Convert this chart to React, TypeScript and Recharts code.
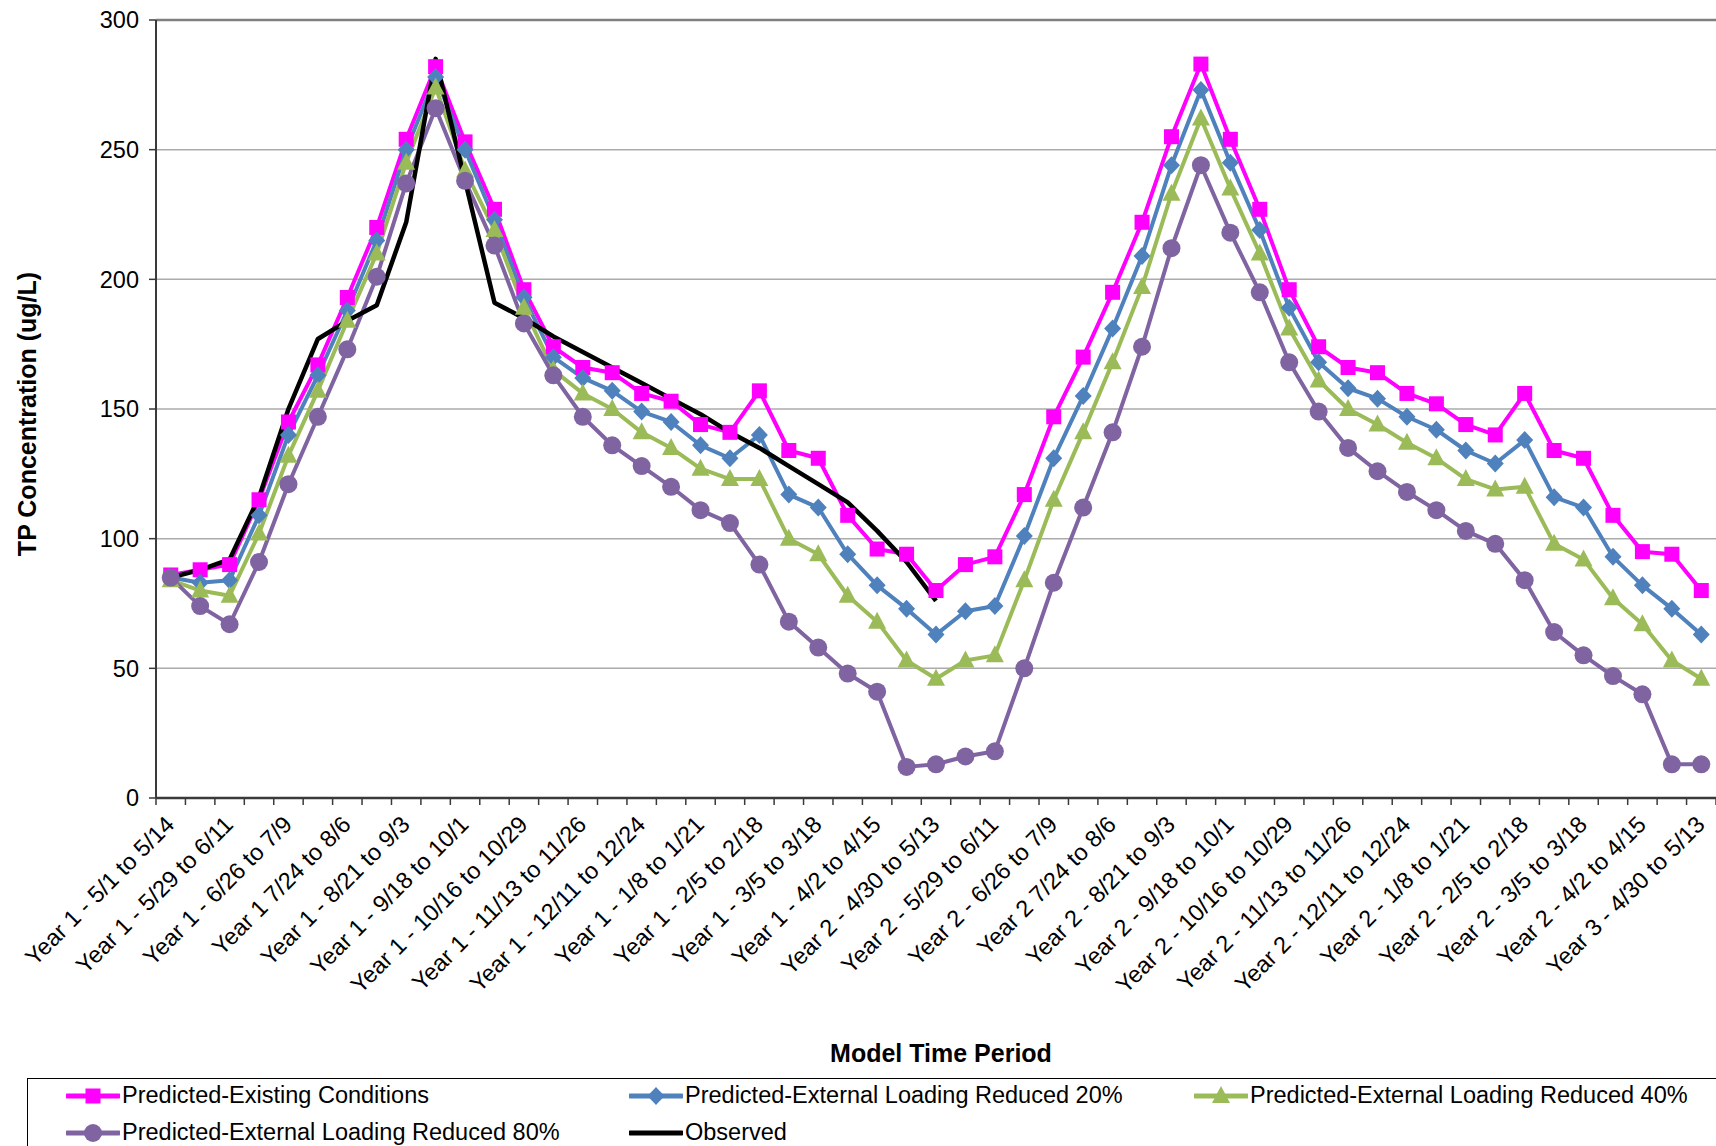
import { CartesianGrid, Legend, Line, LineChart, ReferenceLine, XAxis, YAxis } from "recharts";

const FONT = '"Liberation Sans", Arial, Helvetica, sans-serif';
const AXIS = "#3a3a3a";
const GRID = "#ababab";

// two-week model periods (only every other one is labelled on the axis)
const PERIODS = [
  "Year 1 - 5/1 to 5/14", "Year 1 - 5/15 to 5/28", "Year 1 - 5/29 to 6/11", "Year 1 - 6/12 to 6/25",
  "Year 1 - 6/26 to 7/9", "Year 1 - 7/10 to 7/23", "Year 1 7/24 to 8/6", "Year 1 - 8/7 to 8/20",
  "Year 1 - 8/21 to 9/3", "Year 1 - 9/4 to 9/17", "Year 1 - 9/18 to 10/1", "Year 1 - 10/2 to 10/15",
  "Year 1 - 10/16 to 10/29", "Year 1 - 10/30 to 11/12", "Year 1 - 11/13 to 11/26", "Year 1 - 11/27 to 12/10",
  "Year 1 - 12/11 to 12/24", "Year 1 - 12/25 to 1/7", "Year 1 - 1/8 to 1/21", "Year 1 - 1/22 to 2/4",
  "Year 1 - 2/5 to 2/18", "Year 1 - 2/19 to 3/4", "Year 1 - 3/5 to 3/18", "Year 1 - 3/19 to 4/1",
  "Year 1 - 4/2 to 4/15", "Year 1 - 4/16 to 4/29", "Year 2 - 4/30 to 5/13", "Year 2 - 5/14 to 5/28",
  "Year 2 - 5/29 to 6/11", "Year 2 - 6/12 to 6/25", "Year 2 - 6/26 to 7/9", "Year 2 - 7/10 to 7/23",
  "Year 2 7/24 to 8/6", "Year 2 - 8/7 to 8/20", "Year 2 - 8/21 to 9/3", "Year 2 - 9/4 to 9/17",
  "Year 2 - 9/18 to 10/1", "Year 2 - 10/2 to 10/15", "Year 2 - 10/16 to 10/29", "Year 2 - 10/30 to 11/12",
  "Year 2 - 11/13 to 11/26", "Year 2 - 11/27 to 12/10", "Year 2 - 12/11 to 12/24", "Year 2 - 12/25 to 1/7",
  "Year 2 - 1/8 to 1/21", "Year 2 - 1/22 to 2/4", "Year 2 - 2/5 to 2/18", "Year 2 - 2/19 to 3/4",
  "Year 2 - 3/5 to 3/18", "Year 2 - 3/19 to 4/1", "Year 2 - 4/2 to 4/15", "Year 2 - 4/16 to 4/29",
  "Year 3 - 4/30 to 5/13",
];

const EXISTING = [
  86, 88, 90, 115, 145, 167, 193, 220, 254, 282, 253, 227, 196, 174, 166, 164, 156, 153, 144, 141,
  157, 134, 131, 109, 96, 94, 80, 90, 93, 117, 147, 170, 195, 222, 255, 283, 254, 227, 196, 174,
  166, 164, 156, 152, 144, 140, 156, 134, 131, 109, 95, 94, 80,
];
const REDUCED_20 = [
  85, 83, 84, 109, 140, 163, 188, 215, 250, 278, 250, 223, 193, 170, 162, 157, 149, 145, 136, 131,
  140, 117, 112, 94, 82, 73, 63, 72, 74, 101, 131, 155, 181, 209, 244, 273, 245, 219, 189, 168,
  158, 154, 147, 142, 134, 129, 138, 116, 112, 93, 82, 73, 63,
];
const REDUCED_40 = [
  84, 80, 78, 102, 132, 157, 184, 210, 245, 274, 242, 219, 189, 165, 156, 150, 141, 135, 127, 123,
  123, 100, 94, 78, 68, 53, 46, 53, 55, 84, 115, 141, 168, 197, 233, 262, 235, 210, 181, 161,
  150, 144, 137, 131, 123, 119, 120, 98, 92, 77, 67, 53, 46,
];
const REDUCED_80 = [
  85, 74, 67, 91, 121, 147, 173, 201, 237, 266, 238, 213, 183, 163, 147, 136, 128, 120, 111, 106,
  90, 68, 58, 48, 41, 12, 13, 16, 18, 50, 83, 112, 141, 174, 212, 244, 218, 195, 168, 149,
  135, 126, 118, 111, 103, 98, 84, 64, 55, 47, 40, 13, 13,
];
// observed only runs through the first year
const OBSERVED = [
  85, 88, 92, 116, 150, 177, 184, 190, 222, 285, 238, 191, 185, 178, 172, 166, 160, 154, 148, 141,
  135, 128, 121, 114, 103, 91, 76,
];

const Y_TICKS = [0, 50, 100, 150, 200, 250, 300];

const SERIES = [
  { key: "existing", name: "Predicted-Existing Conditions", color: "#FF00FF", marker: "square" },
  { key: "r20", name: "Predicted-External Loading Reduced 20%", color: "#4F81BD", marker: "diamond" },
  { key: "r40", name: "Predicted-External Loading Reduced 40%", color: "#9BBB59", marker: "triangle" },
  { key: "r80", name: "Predicted-External Loading Reduced 80%", color: "#8064A2", marker: "circle" },
  { key: "observed", name: "Observed", color: "#000000", marker: "none" },
];

const data = PERIODS.map((period, i) => ({
  period,
  existing: EXISTING[i],
  r20: REDUCED_20[i],
  r40: REDUCED_40[i],
  r80: REDUCED_80[i],
  observed: i < OBSERVED.length ? OBSERVED[i] : null,
}));

const W = 1716;
const H = 1146;
const Y_AXIS_W = 156;
const PLOT_W = W - Y_AXIS_W;
const BAND = PLOT_W / PERIODS.length;

function Marker({ shape, cx, cy, color }: { shape: string; cx: number; cy: number; color: string }) {
  if (shape === "square") return <rect x={cx - 7.5} y={cy - 7.5} width={15} height={15} fill={color} />;
  if (shape === "diamond")
    return <polygon points={`${cx},${cy - 9} ${cx + 8.5},${cy} ${cx},${cy + 9} ${cx - 8.5},${cy}`} fill={color} />;
  if (shape === "triangle")
    return <polygon points={`${cx},${cy - 10} ${cx + 9},${cy + 7} ${cx - 9},${cy + 7}`} fill={color} />;
  if (shape === "circle") return <circle cx={cx} cy={cy} r={9} fill={color} />;
  return null;
}

function PeriodTick(props: any) {
  const { x, y, payload } = props;
  const i = payload.index;
  const h = BAND / 2;
  const ax = x + 5;
  const ay = y + 28;
  return (
    <g>
      <line x1={x - h} x2={x - h} y1={y} y2={y + 7} stroke={AXIS} strokeWidth={1.5} />
      {i === PERIODS.length - 1 && <line x1={x + h} x2={x + h} y1={y} y2={y + 7} stroke={AXIS} strokeWidth={1.5} />}
      {i % 2 === 0 && (
        <text
          x={ax}
          y={ay}
          transform={`rotate(-45, ${ax}, ${ay})`}
          textAnchor="end"
          fontSize={23.5}
          fontFamily={FONT}
          fill="#000"
        >
          {payload.value}
        </text>
      )}
    </g>
  );
}

function LegendBox() {
  return (
    <div
      style={{
        boxSizing: "border-box",
        width: 1720,
        height: 100,
        border: "1.5px solid #000",
        display: "grid",
        gridTemplateColumns: "563px 565px 1fr",
        gridAutoRows: "37px",
        paddingLeft: 38,
        fontFamily: FONT,
        fontSize: 23.5,
        color: "#000",
      }}
    >
      {SERIES.map((s) => (
        <div
          key={s.key}
          style={{ display: "flex", alignItems: "center", whiteSpace: "nowrap", position: "relative", top: -2 }}
        >
          <svg width={54} height={22} style={{ marginRight: 2 }}>
            <line x1={1} x2={53} y1={11} y2={11} stroke={s.color} strokeWidth={5} strokeLinecap="round" />
            <Marker shape={s.marker} cx={27} cy={11} color={s.color} />
          </svg>
          <span>{s.name}</span>
        </div>
      ))}
    </div>
  );
}

export default function App() {
  return (
    <div style={{ position: "absolute", left: 0, top: 0, width: W, height: H, overflow: "hidden", background: "#fff" }}>
      <LineChart width={W} height={H} data={data} margin={{ top: 20, right: 0, bottom: 68, left: 0 }}>
        <CartesianGrid horizontal vertical={false} stroke={GRID} strokeWidth={1.5} />
        <ReferenceLine y={300} stroke="#7f7f7f" strokeWidth={2.5} />
        <XAxis
          dataKey="period"
          interval={0}
          height={280}
          padding={{ left: BAND / 2, right: BAND / 2 }}
          tickLine={false}
          tickSize={0}
          tickMargin={0}
          axisLine={{ stroke: AXIS, strokeWidth: 2.5 }}
          tick={<PeriodTick />}
          label={{
            content: ({ viewBox }: any) => (
              <text
                x={viewBox.x + viewBox.width / 2 + 5}
                y={viewBox.y + 264}
                textAnchor="middle"
                fontSize={25}
                fontWeight="bold"
                fontFamily={FONT}
                fill="#000"
              >
                Model Time Period
              </text>
            ),
          }}
        />
        <YAxis
          width={Y_AXIS_W}
          domain={[0, 300]}
          ticks={Y_TICKS}
          interval={0}
          tickSize={7}
          tickMargin={10}
          tickLine={{ stroke: AXIS, strokeWidth: 1.5 }}
          axisLine={{ stroke: AXIS, strokeWidth: 2 }}
          tick={{ fontSize: 23.5, fontFamily: FONT, fill: "#000" }}
          label={{
            content: ({ viewBox }: any) => {
              const cx = viewBox.x + 27;
              const cy = viewBox.y + viewBox.height / 2 + 5;
              return (
                <text
                  x={cx}
                  y={cy}
                  transform={`rotate(-90, ${cx}, ${cy})`}
                  textAnchor="middle"
                  dominantBaseline="central"
                  fontSize={25}
                  fontWeight="bold"
                  fontFamily={FONT}
                  fill="#000"
                >
                  TP Concentration (ug/L)
                </text>
              );
            },
          }}
        />
        <Legend
          layout="horizontal"
          verticalAlign="middle"
          wrapperStyle={{ left: 27, top: 1078, width: 1720, height: 100 }}
          content={() => <LegendBox />}
        />
        {SERIES.map((s) => (
          <Line
            key={s.key}
            type="linear"
            dataKey={s.key}
            name={s.name}
            stroke={s.color}
            strokeWidth={s.key === "observed" ? 4.5 : 4}
            strokeLinejoin="round"
            isAnimationActive={false}
            activeDot={false}
            dot={
              s.marker === "none"
                ? false
                : (p: any) =>
                    p.cx == null || p.cy == null ? (
                      <g key={`${s.key}-${p.index}`} />
                    ) : (
                      <Marker key={`${s.key}-${p.index}`} shape={s.marker} cx={p.cx} cy={p.cy} color={s.color} />
                    )
            }
          />
        ))}
      </LineChart>
    </div>
  );
}
